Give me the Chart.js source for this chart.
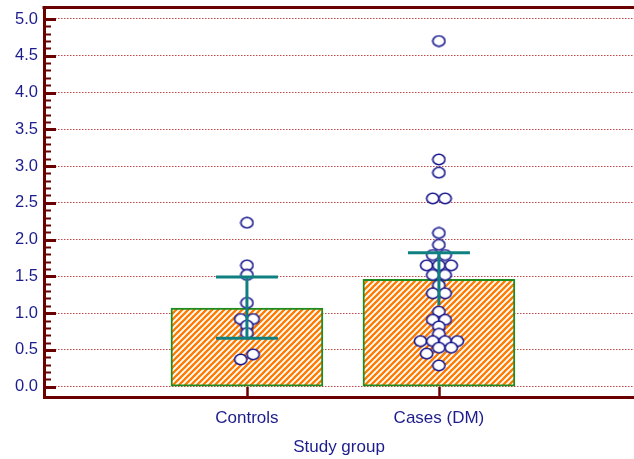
<!DOCTYPE html>
<html lang="en">
<head>
  <meta charset="UTF-8">
  <title>Study group</title>
  <script src="https://cdn.jsdelivr.net/npm/chart.js"></script>
  <style>
    body {
      margin: 0;
      background: #fff;
      overflow: hidden;
    }

    #quadro {
      width: 634px;
      height: 459px;
      position: relative;
    }
  </style>
</head>
<body>
  <div id="quadro"><canvas id="grafico"></canvas></div>

  <script>
    // data
    const groups = ['Controls', 'Cases (DM)'];
    const barValues = [1.07, 1.46];
    const errLow = [0.66, 1.11];
    const errHigh = [1.49, 1.82];
    const lowCap = [true, false];

    const controlsValues = [2.23, 1.65, 1.52, 1.14, 0.92, 0.92, 0.83, 0.73, 0.44, 0.37];
    const controlsLanes  = [0, 0, 0, 0, -1, 1, 0, 0, 1, -1];

    const casesValues = [4.70, 3.09, 2.91, 2.56, 2.56, 2.09, 1.93, 1.79, 1.79, 1.65, 1.65, 1.65,
      1.52, 1.52, 1.38, 1.27, 1.27, 1.02, 0.91, 0.91, 0.82, 0.72, 0.62, 0.62, 0.62, 0.62,
      0.53, 0.53, 0.45, 0.29];
    const casesLanes = [0, 0, 0, -1, 1, 0, 0, -1, 1, -2, 0, 2,
      -1, 1, 0, -1, 1, 0, -1, 1, 0, 0, -3, -1, 1, 3,
      0, 2, -2, 0];

    const yTickValues = [0, 0.5, 1, 1.5, 2, 2.5, 3, 3.5, 4, 4.5, 5];

    // styles
    const corEixo = '#6b0000';
    const corTexto = '#1c1c8c';
    const corVerde = '#1e8c1e';
    const corLaranja = '#ff7b00';
    const corErro = '#0f8080';
    const corPonto = '#16168c';
    const passoFaixa = 0.032; // horizontal jitter step, in x units

    Chart.defaults.font.family = 'Arial, "Liberation Sans", sans-serif';
    Chart.defaults.font.size = 16;
    Chart.defaults.color = corTexto;

    // hatch pattern for the bars
    const hachura = document.createElement('canvas');
    hachura.width = 6;
    hachura.height = 6;
    const hctx = hachura.getContext('2d');
    hctx.fillStyle = '#fff';
    hctx.fillRect(0, 0, 6, 6);
    hctx.strokeStyle = corLaranja;
    hctx.lineWidth = 2.3;
    hctx.beginPath();
    hctx.moveTo(-1, 7); hctx.lineTo(7, -1);
    hctx.moveTo(-1, 1); hctx.lineTo(1, -1);
    hctx.moveTo(5, 7); hctx.lineTo(7, 5);
    hctx.stroke();

    // open ellipse marker
    const marcador = document.createElement('canvas');
    marcador.width = 15;
    marcador.height = 13;
    const mctx = marcador.getContext('2d');
    mctx.fillStyle = '#fff';
    mctx.strokeStyle = corPonto;
    mctx.lineWidth = 1.6;
    mctx.beginPath();
    mctx.ellipse(7.5, 6.5, 6.1, 5.2, 0, 0, Math.PI * 2);
    mctx.fill();
    mctx.stroke();

    const ctx = document.getElementById('grafico').getContext('2d');

    const pontos = [];
    controlsValues.forEach((v, i) => pontos.push({ x: 1 + controlsLanes[i] * passoFaixa, y: v }));
    casesValues.forEach((v, i) => pontos.push({ x: 2 + casesLanes[i] * passoFaixa, y: v }));

    const extras = {
      id: 'extras',
      afterDatasetsDraw(chart) {
        const { ctx, scales: { x, y } } = chart;
        ctx.save();
        ctx.strokeStyle = corErro;
        ctx.lineWidth = 3;
        groups.forEach((g, i) => {
          const px = x.getPixelForValue(i + 1);
          const topo = y.getPixelForValue(errHigh[i]);
          const base = y.getPixelForValue(errLow[i]);
          ctx.beginPath();
          ctx.moveTo(px, topo); ctx.lineTo(px, base);
          ctx.moveTo(px - 31, topo); ctx.lineTo(px + 31, topo);
          if (lowCap[i]) {
            ctx.moveTo(px - 31, base); ctx.lineTo(px + 31, base);
          }
          ctx.stroke();
        });
        ctx.restore();
      },
      afterDraw(chart) {
        const { ctx, chartArea: a, scales: { x, y } } = chart;
        ctx.save();
        ctx.strokeStyle = corEixo;

        // top frame line
        ctx.lineWidth = 3;
        ctx.beginPath();
        ctx.moveTo(a.left - 1.5, a.top);
        ctx.lineTo(a.right, a.top);
        ctx.stroke();

        // y ticks, inside the plot
        for (let v = 0; v <= 50; v++) {
          const py = Math.round(y.getPixelForValue(v / 10)) + 0.5;
          const maior = v % 5 === 0;
          ctx.lineWidth = maior ? 3 : 2;
          ctx.beginPath();
          ctx.moveTo(a.left, py);
          ctx.lineTo(a.left + (maior ? 12 : 7), py);
          ctx.stroke();
        }

        // x ticks, pointing up
        ctx.lineWidth = 2.5;
        groups.forEach((g, i) => {
          const px = Math.round(x.getPixelForValue(i + 1)) + 0.5;
          ctx.beginPath();
          ctx.moveTo(px, a.bottom);
          ctx.lineTo(px, a.bottom - 10);
          ctx.stroke();
        });
        ctx.restore();
      }
    };

    const config = {
      type: 'bar',
      data: {
        datasets: [
          {
            type: 'scatter',
            data: pontos,
            pointStyle: marcador,
            order: 1
          },
          {
            type: 'bar',
            data: barValues.map((v, i) => ({ x: i + 1, y: v })),
            backgroundColor: ctx.createPattern(hachura, 'repeat'),
            borderColor: corVerde,
            borderWidth: 2,
            borderSkipped: false,
            barThickness: 152,
            order: 2
          }
        ]
      },
      options: {
        responsive: true,
        maintainAspectRatio: false,
        animation: false,
        layout: {
          autoPadding: false,
          padding: { top: 7.5, left: 0, right: 0, bottom: 0 }
        },
        scales: {
          x: {
            type: 'linear',
            offset: false,
            min: -0.057,
            max: 3.016,
            afterBuildTicks: (s) => { s.ticks = groups.map((g, i) => ({ value: i + 1 })); },
            afterFit: (s) => {
              s.height = 62;
              s.paddingLeft = 0;
              s.paddingRight = 0;
            },
            grid: { display: false, offset: false },
            border: { display: true, color: corEixo, width: 3 },
            ticks: {
              padding: 3,
              maxRotation: 0,
              autoSkip: false,
              font: { size: 17 },
              callback: (v, i) => groups[i]
            },
            title: {
              display: true,
              text: 'Study group',
              font: { size: 17 },
              padding: { top: 0, bottom: 1 }
            }
          },
          y: {
            min: -0.14,
            max: 5.156,
            afterBuildTicks: (s) => { s.ticks = yTickValues.map(v => ({ value: v })); },
            afterFit: (s) => {
              s.width = 44;
              s.paddingTop = 0;
              s.paddingBottom = 0;
            },
            grid: {
              color: '#c04848',
              lineWidth: 1,
              drawTicks: false
            },
            border: { display: true, color: corEixo, width: 3, dash: [1.5, 1.5] },
            ticks: {
              padding: 6,
              font: { size: 16.5 },
              callback: (v) => v.toFixed(1)
            }
          }
        },
        plugins: {
          legend: { display: false },
          tooltip: { enabled: false }
        }
      },
      plugins: [extras]
    };

    const grafico = new Chart(ctx, config);
  </script>
</body>
</html>
